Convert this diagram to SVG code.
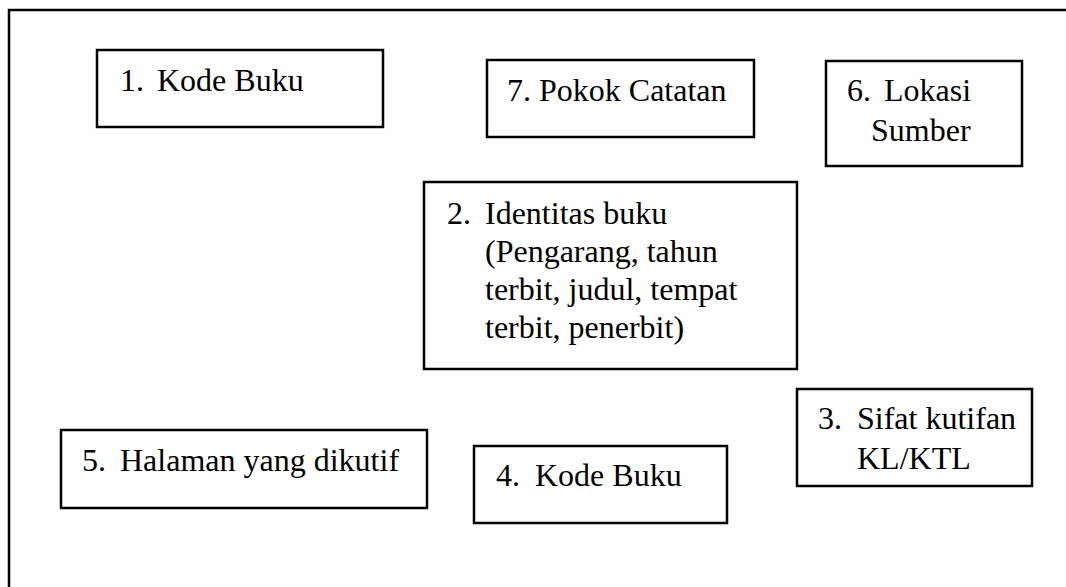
<svg xmlns="http://www.w3.org/2000/svg" width="1066" height="587" viewBox="0 0 1066 587">
<style>
.box{fill:#fff;stroke:#000;stroke-width:2.5}
.frame{fill:none;stroke:#000;stroke-width:2.5}
.t{font-size:32px;fill:#000;font-family:"Times New Roman","Liberation Serif",Tinos,"DejaVu Serif",serif}
</style>
<rect width="1066" height="587" fill="#fff"/>
<g id="frame"><path class="frame" d="M9,587 V10 H1066"/></g>
<g id="connectors"></g>
<g id="node1">
<rect class="box" x="97" y="50" width="286" height="77"/>
<text class="t" x="120" y="91">1.</text><text class="t" x="157" y="91">Kode Buku</text>
</g>
<g id="node7">
<rect class="box" x="487" y="60" width="267" height="77"/>
<text class="t" x="507" y="101">7. Pokok Catatan</text>
</g>
<g id="node6">
<rect class="box" x="826" y="61" width="196" height="105"/>
<text class="t" x="847" y="101">6.</text><text class="t" x="884" y="101">Lokasi</text>
<text class="t" x="871" y="141">Sumber</text>
</g>
<g id="node2">
<rect class="box" x="424" y="182" width="373" height="187"/>
<text class="t" x="447" y="224">2.</text><text class="t" x="485" y="224">Identitas buku</text>
<text class="t" x="485" y="262">(Pengarang, tahun</text>
<text class="t" x="485" y="300">terbit, judul, tempat</text>
<text class="t" x="485" y="338">terbit, penerbit)</text>
</g>
<g id="node3">
<rect class="box" x="797" y="389" width="235" height="97"/>
<text class="t" x="818" y="429">3.</text><text class="t" x="857" y="429">Sifat kutifan</text>
<text class="t" x="857" y="469">KL/KTL</text>
</g>
<g id="node5">
<rect class="box" x="61" y="430" width="366" height="78"/>
<text class="t" x="82" y="471">5.</text><text class="t" x="120" y="471">Halaman yang dikutif</text>
</g>
<g id="node4">
<rect class="box" x="474" y="446" width="253" height="77"/>
<text class="t" x="496" y="486">4.</text><text class="t" x="535" y="486">Kode Buku</text>
</g>
</svg>
